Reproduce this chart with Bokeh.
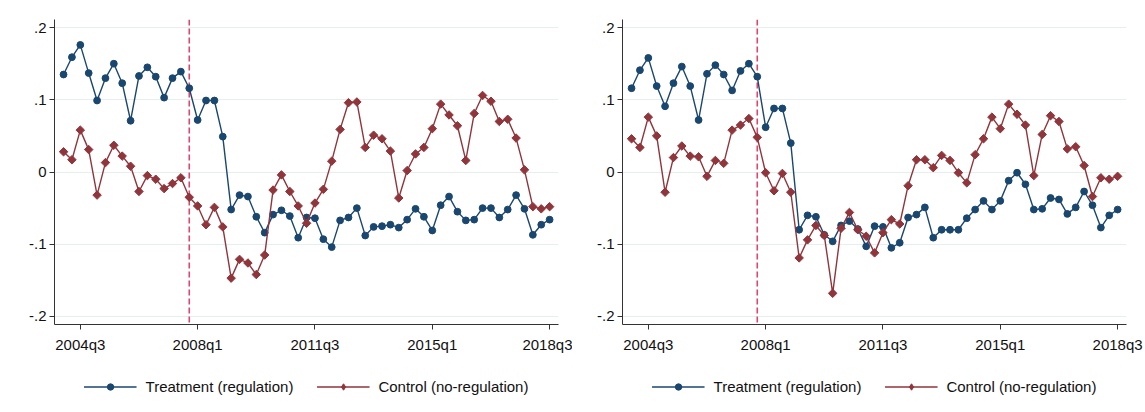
import numpy as np
from bokeh.plotting import figure
from bokeh.layouts import row, column
from bokeh.models import Range1d, FixedTicker, Span, Legend, LegendItem
from bokeh.embed import file_html
from bokeh.resources import INLINE

# ---------------- data ----------------
quarters = [f"{y}q{q}" for y in range(2004, 2019) for q in range(1, 5)][:59]  # 2004q1 .. 2018q3
x_tick_labels = ["2004q3", "2008q1", "2011q3", "2015q1", "2018q3"]
y_tick_values = [-0.2, -0.1, 0.0, 0.1, 0.2]
y_tick_labels = ["-.2", "-.1", "0", ".1", ".2"]
event_quarter = "2007q4"
series_names = ["Treatment (regulation)", "Control (no-regulation)"]

left_treatment = [0.135, 0.159, 0.176, 0.137, 0.099, 0.130, 0.150, 0.123, 0.071, 0.133,
                  0.145, 0.132, 0.103, 0.130, 0.139, 0.116, 0.072, 0.099, 0.099, 0.049,
                  -0.052, -0.032, -0.034, -0.062, -0.084, -0.059, -0.053, -0.061, -0.091, -0.063,
                  -0.064, -0.093, -0.104, -0.067, -0.063, -0.050, -0.088, -0.076, -0.075, -0.073,
                  -0.077, -0.066, -0.051, -0.062, -0.081, -0.046, -0.034, -0.055, -0.067, -0.066,
                  -0.050, -0.050, -0.063, -0.052, -0.032, -0.051, -0.087, -0.073, -0.066]
left_control = [0.028, 0.017, 0.058, 0.031, -0.032, 0.013, 0.037, 0.022, 0.008, -0.027,
                -0.005, -0.010, -0.023, -0.016, -0.008, -0.035, -0.047, -0.073, -0.049, -0.076,
                -0.147, -0.121, -0.126, -0.142, -0.115, -0.025, -0.004, -0.027, -0.047, -0.071,
                -0.043, -0.024, 0.015, 0.059, 0.096, 0.097, 0.034, 0.051, 0.046, 0.029,
                -0.036, 0.002, 0.025, 0.034, 0.060, 0.094, 0.079, 0.064, 0.016, 0.081,
                0.106, 0.098, 0.070, 0.073, 0.047, 0.003, -0.048, -0.051, -0.048]
right_treatment = [0.116, 0.141, 0.158, 0.119, 0.091, 0.123, 0.146, 0.119, 0.072, 0.136,
                   0.148, 0.135, 0.113, 0.140, 0.150, 0.132, 0.062, 0.088, 0.088, 0.040,
                   -0.080, -0.060, -0.062, -0.087, -0.096, -0.074, -0.068, -0.079, -0.103, -0.075,
                   -0.076, -0.105, -0.098, -0.063, -0.059, -0.049, -0.091, -0.080, -0.080, -0.080,
                   -0.064, -0.052, -0.040, -0.052, -0.040, -0.012, -0.001, -0.017, -0.052, -0.051,
                   -0.036, -0.038, -0.058, -0.049, -0.027, -0.046, -0.077, -0.060, -0.052]
right_control = [0.046, 0.034, 0.076, 0.050, -0.028, 0.020, 0.036, 0.022, 0.021, -0.006,
                 0.016, 0.012, 0.058, 0.065, 0.074, 0.048, -0.001, -0.026, -0.002, -0.028,
                 -0.119, -0.094, -0.074, -0.088, -0.168, -0.078, -0.056, -0.080, -0.089, -0.112,
                 -0.084, -0.066, -0.072, -0.019, 0.017, 0.017, 0.006, 0.023, 0.016, -0.001,
                 -0.015, 0.024, 0.046, 0.076, 0.060, 0.094, 0.080, 0.065, -0.005, 0.052,
                 0.078, 0.070, 0.032, 0.035, 0.009, -0.034, -0.008, -0.010, -0.006]

BLUE = "#1a476f"
RED = "#90353b"
DASH = "#e0456f"
FONT = "Liberation Sans"
FS = "15px"
MAIN_H = 360
LEG_H = 52


def make_panel(treat, ctrl, left_border, width, right_border):
    x = list(range(len(quarters)))
    p = figure(width=width, height=MAIN_H, output_backend="svg", toolbar_location=None,
               x_range=Range1d(-1.08, 59.06), y_range=Range1d(-0.2112, 0.2112),
               min_border_left=left_border, min_border_right=right_border,
               min_border_top=19, min_border_bottom=MAIN_H - 19 - 305)
    p.outline_line_color = None
    p.background_fill_color = "white"
    p.border_fill_color = "white"

    tick_idx = [quarters.index(l) for l in x_tick_labels]
    p.xaxis.ticker = FixedTicker(ticks=tick_idx)
    p.xaxis.major_label_overrides = {i: l for i, l in zip(tick_idx, x_tick_labels)}
    p.yaxis.ticker = FixedTicker(ticks=y_tick_values)
    p.yaxis.major_label_overrides = {v: l for v, l in zip(y_tick_values, y_tick_labels)}
    for ax in (p.xaxis, p.yaxis):
        ax.axis_line_color = "#333333"
        ax.major_tick_line_color = "#333333"
        ax.major_tick_out = 5
        ax.major_tick_in = 0
        ax.minor_tick_line_color = None
        ax.major_label_text_font = FONT
        ax.major_label_text_font_size = FS
        ax.major_label_text_color = "#111111"
    p.yaxis.major_label_standoff = 3
    p.xaxis.major_label_standoff = 6
    p.xgrid.grid_line_color = None
    p.ygrid.grid_line_color = "#e6eeee"
    p.ygrid.grid_line_width = 1

    p.add_layout(Span(location=quarters.index(event_quarter), dimension="height",
                      line_color=DASH, line_dash="6 3", line_width=1.6, level="underlay"))

    p.line(x, treat, line_color=BLUE, line_width=1.4)
    p.scatter(x, treat, marker="circle", size=6.8, fill_color=BLUE, line_color=BLUE)
    p.line(x, ctrl, line_color=RED, line_width=1.4)
    p.scatter(x, ctrl, marker="square", angle=np.pi / 4, size=6.0,
              fill_color=RED, line_color=RED)

    # legend strip below the plot (same horizontal frame as the plot)
    lg = figure(width=width, height=LEG_H, output_backend="svg", toolbar_location=None,
                x_range=Range1d(0, 1), y_range=Range1d(0, 1),
                x_axis_type=None, y_axis_type=None,
                min_border_left=left_border, min_border_right=right_border,
                min_border_top=0, min_border_bottom=0)
    lg.outline_line_color = None
    lg.background_fill_color = "white"
    lg.border_fill_color = "white"
    lg.xgrid.visible = False
    lg.ygrid.visible = False
    # off-screen stand-ins that carry the legend styling
    r1 = lg.line([5, 6], [5, 6], line_color=BLUE, line_width=1.6)
    r2 = lg.scatter([5], [5], marker="circle", fill_color=BLUE, line_color=BLUE)
    r3 = lg.line([5, 6], [5, 6], line_color=RED, line_width=1.6)
    r4 = lg.scatter([5], [5], marker="diamond", fill_color=RED, line_color=RED)
    legend = Legend(items=[LegendItem(label=series_names[0], renderers=[r1, r2]),
                           LegendItem(label=series_names[1], renderers=[r3, r4])],
                    location="center", orientation="horizontal",
                    glyph_width=53, glyph_height=16, label_standoff=9, spacing=23,
                    padding=0, margin=0, border_line_color=None, background_fill_alpha=0,
                    label_text_font=FONT, label_text_font_size=FS,
                    label_text_color="#111111")
    lg.add_layout(legend)
    return column(p, lg)


c1 = make_panel(left_treatment, left_control, 54, 572, 14)
c2 = make_panel(right_treatment, right_control, 50, 572, 18)
layout = row(c1, c2)

open("out.html", "w").write(file_html(layout, INLINE))
